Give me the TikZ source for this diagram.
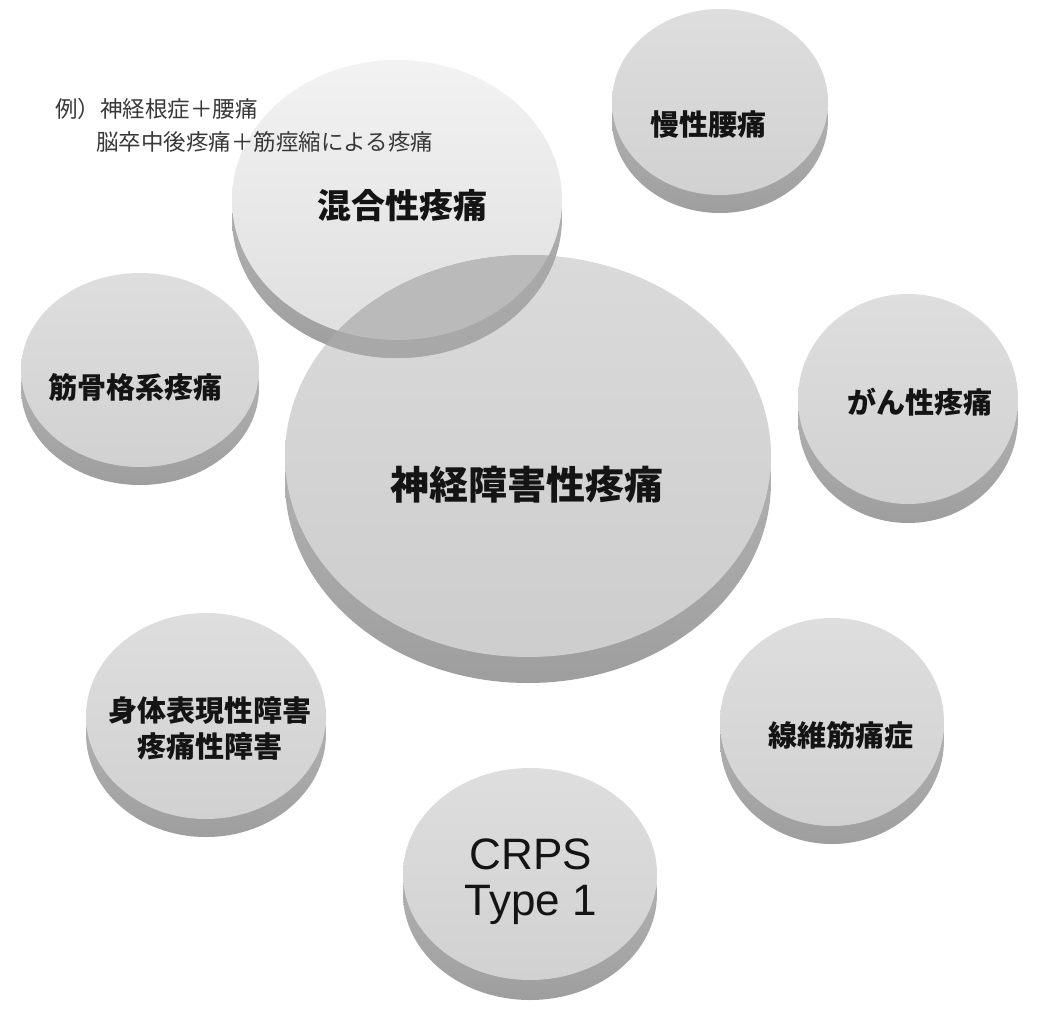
\documentclass[tikz,border=0pt]{standalone}
\usepackage{fontspec}
\newfontfamily\jp{Noto Sans CJK JP}
\newfontfamily\lat{Liberation Sans}
\tikzset{
  rimshade/.style={top color=gray!50, bottom color=gray!76},
  facesmall/.style={top color=gray!26, bottom color=gray!36},
  facebig/.style={top color=gray!29, bottom color=gray!39},
  facemix/.style={top color=gray!10, bottom color=gray!25},
  lbl/.style={font=\jp\bfseries\fontsize{29}{36}\selectfont, text=black!92, align=center, inner sep=0pt},
  note/.style={font=\jp\fontsize{22.5}{26}\selectfont, text=black!78, inner sep=0pt, anchor=base west},
}
\newcommand\mydisk[6]{%
  \shade[rimshade] (#1,#2+#5) ellipse [x radius=#3pt, y radius=#4pt];
  \shade[#6] (#1,#2) ellipse [x radius=#3pt, y radius=#4pt];
}
\begin{document}
\begin{tikzpicture}[x=1pt,y=-1pt]
\useasboundingbox[fill=white] (0,0) rectangle (1047,1009);
% small disks
\mydisk{720}{102}{108}{93}{18}{facesmall}
\mydisk{140}{370}{119}{97}{18}{facesmall}
\mydisk{908}{399}{110}{105}{19}{facesmall}
\mydisk{206}{716}{120}{103}{18}{facesmall}
\mydisk{832}{722}{112}{104}{18}{facesmall}
\mydisk{530}{874}{127}{106}{20}{facesmall}
% big disk
\mydisk{528}{456}{243}{201}{26}{facebig}
% mixed disk
\mydisk{397}{200}{165}{140}{18}{facemix}
% overlap of mixed and big
\begin{scope}
  \clip (528,456) ellipse [x radius=243pt, y radius=201pt]
        (528,482) ellipse [x radius=243pt, y radius=201pt];
  \fill[gray!68] (397,218) ellipse [x radius=165pt, y radius=140pt];
  \fill[gray!54] (397,200) ellipse [x radius=165pt, y radius=140pt];
\end{scope}
% annotation
\node[note] (ex1) at (55,117) {例）神経根症＋腰痛};
\node[note] (ex2) at (96,150) {脳卒中後疼痛＋筋痙縮による疼痛};
% labels
\node[lbl] (lumbar) at (708,125) {慢性腰痛};
\node[lbl, font=\jp\bfseries\fontsize{34}{40}\selectfont] (mixed) at (402,206) {混合性疼痛};
\node[lbl] (musc) at (135,387) {筋骨格系疼痛};
\node[lbl] (cancer) at (920,402) {がん性疼痛};
\node[lbl, font=\jp\bfseries\fontsize{39}{44}\selectfont] (neuro) at (527,485) {神経障害性疼痛};
\node[lbl] (somato) at (210,728) {身体表現性障害\\疼痛性障害};
\node[lbl] (fibro) at (841,735) {線維筋痛症};
\node[lbl, font=\lat\fontsize{44}{46}\selectfont] (crps) at (531,882) {CRPS\\Type 1};
\end{tikzpicture}
\end{document}
